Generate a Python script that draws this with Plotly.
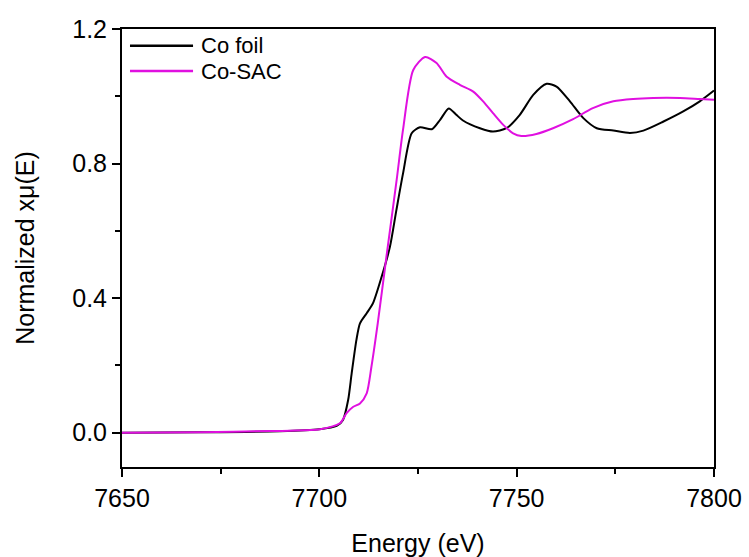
import plotly.graph_objects as go

# Co K-edge XANES, normalized absorption
foil_energy = [7650, 7670, 7690, 7700, 7704.4, 7706.0, 7707.3, 7708.2, 7709.4, 7710.3,
               7712.0, 7713.6, 7715.8, 7717.9, 7719.5, 7721.2, 7723.4, 7725.5, 7728.5,
               7730.6, 7732.8, 7734.7, 7736.4, 7740.7, 7744.0, 7747.4, 7750.8, 7754.2,
               7757.6, 7760.1, 7763.5, 7766.9, 7770.3, 7774.5, 7778.7, 7782.1, 7787.2,
               7792.2, 7796.4, 7800]
foil_mu = [0.0, 0.001, 0.004, 0.010, 0.020, 0.038, 0.097, 0.177, 0.276, 0.325,
           0.355, 0.385, 0.464, 0.553, 0.66, 0.77, 0.89, 0.908, 0.902,
           0.930, 0.964, 0.945, 0.928, 0.905, 0.895, 0.905, 0.945, 1.004,
           1.037, 1.029, 0.985, 0.935, 0.905, 0.898, 0.891, 0.898, 0.925,
           0.955, 0.985, 1.017]

sac_energy = [7650, 7670, 7687.5, 7692.6, 7700.2, 7705.2, 7706.9, 7708.6, 7710.3, 7712.0,
              7713.2, 7714.8, 7717.0, 7719.6, 7721.2, 7723.8, 7726.8, 7729.7, 7732.2,
              7735.6, 7739.0, 7741.5, 7744.0, 7746.6, 7749.1, 7751.2, 7755.0, 7759.2,
              7764.3, 7769.3, 7774.5, 7779.5, 7784.6, 7791.4, 7796.4, 7800]
sac_mu = [0.0, 0.001, 0.005, 0.006, 0.010, 0.028, 0.058, 0.077, 0.087, 0.117,
          0.196, 0.325, 0.523, 0.752, 0.90, 1.078, 1.117, 1.099, 1.059,
          1.034, 1.014, 0.985, 0.950, 0.915, 0.890, 0.882, 0.888, 0.905,
          0.932, 0.965, 0.985, 0.992, 0.995, 0.995, 0.992, 0.990]

series_names = ["Co foil", "Co-SAC"]
series_colors = ["#000000", "#E010E0"]

x_ticks = [7650, 7700, 7750, 7800]
y_ticks = [0.0, 0.4, 0.8, 1.2]
y_tick_text = ["0.0", "0.4", "0.8", "1.2"]

FONT = "Arial, 'Liberation Sans', sans-serif"

fig = go.Figure()
for name, color, xs, ys in zip(series_names, series_colors,
                               [foil_energy, sac_energy], [foil_mu, sac_mu]):
    fig.add_trace(go.Scatter(x=xs, y=ys, mode="lines", name=name,
                             line=dict(color=color, width=2, shape="spline", smoothing=0.7)))

# legend drawn as keyed line samples with labels, Origin style
legend_rows_y = [0.962, 0.904]
for name, color, yy in zip(series_names, series_colors, legend_rows_y):
    fig.add_shape(type="line", xref="paper", yref="paper",
                  x0=0.0135, x1=0.12, y0=yy, y1=yy,
                  line=dict(color=color, width=2.5))
    fig.add_annotation(text=name, xref="paper", yref="paper", x=0.132, y=yy,
                       xanchor="left", yanchor="middle", showarrow=False,
                       borderpad=0,
                       font=dict(family=FONT, size=22, color="black"))

axis_common = dict(
    showline=True, linecolor="black", linewidth=2, mirror=True,
    ticks="outside", ticklen=8, tickwidth=1.5, tickcolor="black",
    showgrid=False, zeroline=False,
    tickfont=dict(family=FONT, size=25, color="black"),
)

fig.update_xaxes(range=[7650, 7800], tickvals=x_ticks,
                 minor=dict(ticks="outside", ticklen=5, tickwidth=1.5, dtick=25,
                            tick0=7650, tickcolor="black", showgrid=False),
                 title=dict(text="Energy (eV)", standoff=30,
                            font=dict(family=FONT, size=25, color="black")),
                 **axis_common)
fig.update_yaxes(range=[-0.102, 1.2], tickvals=y_ticks, ticktext=y_tick_text,
                 minor=dict(ticks="outside", ticklen=5, tickwidth=1.5, dtick=0.2,
                            tick0=0, tickcolor="black", showgrid=False),
                 title=dict(text="Normalized xμ(E)", standoff=30,
                            font=dict(family=FONT, size=25, color="black")),
                 **axis_common)

fig.update_layout(
    width=749, height=557,
    margin=dict(l=122, r=35, t=29, b=90, autoexpand=False),
    paper_bgcolor="white", plot_bgcolor="white",
    showlegend=False,
)

fig.write_html("out.html")
